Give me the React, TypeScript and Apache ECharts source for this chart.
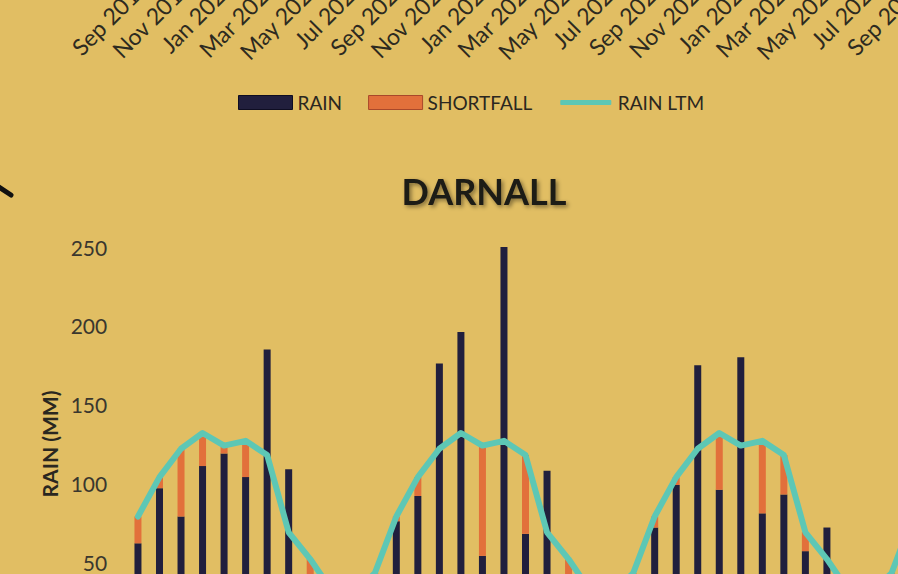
import React, { useEffect, useRef } from "react";
import * as echarts from "echarts";

const months = [
  "Sep 2019", "Oct 2019", "Nov 2019", "Dec 2019", "Jan 2020", "Feb 2020", "Mar 2020", "Apr 2020", "May 2020", "Jun 2020", "Jul 2020", "Aug 2020",
  "Sep 2020", "Oct 2020", "Nov 2020", "Dec 2020", "Jan 2021", "Feb 2021", "Mar 2021", "Apr 2021", "May 2021", "Jun 2021", "Jul 2021", "Aug 2021",
  "Sep 2021", "Oct 2021", "Nov 2021", "Dec 2021", "Jan 2022", "Feb 2022", "Mar 2022", "Apr 2022", "May 2022", "Jun 2022", "Jul 2022", "Aug 2022",
  "Sep 2022",
];

const rain = [
  62, 97, 79, 111, 119, 104, 185, 109, 30, 12, 8, 20,
  76, 92, 176, 196, 54, 250, 68, 108, 28, 15, 10, 25,
  72, 99, 175, 96, 180, 81, 93, 57, 72, 20, 15, 30,
  60,
];

const shortfall = [
  17, 7, 43, 21, 5, 23, 0, 0, 22, 20, 22, 23,
  3, 12, 0, 0, 70, 0, 50, 0, 24, 17, 20, 18,
  7, 5, 0, 36, 0, 46, 25, 12, 0, 12, 15, 13,
  19,
];

const rainLtm = [
  79, 104, 122, 132, 124, 127, 118, 69, 52, 32, 30, 43,
  79, 104, 122, 132, 124, 127, 118, 69, 52, 32, 30, 43,
  79, 104, 122, 132, 124, 127, 118, 69, 52, 32, 30, 43,
  79,
];

const yMin = 0;
const yMax = 250;
const yStep = 50;

const BG = "#E1BE63";
const DARK = "#211F3D";
const ORANGE = "#E2703B";
const TEAL = "#5DC7B5";

export default function App() {
  const ref = useRef<HTMLDivElement>(null);
  useEffect(() => {
    const chart = echarts.init(ref.current!, null, { renderer: "svg" });
    chart.setOption({
      animation: false,
      backgroundColor: BG,
      textStyle: { fontFamily: "Lato" },
      title: {
        text: "DARNALL",
        left: 479,
        top: 248,
        textAlign: "center",
        textStyle: {
          fontFamily: "Lato",
          fontSize: 36,
          fontWeight: "bold",
          color: "#1c1a16",
          textShadowColor: "rgba(0,0,0,0.45)",
          textShadowBlur: 4,
          textShadowOffsetX: 2,
          textShadowOffsetY: 2,
        },
      },
      legend: {
        left: 233,
        top: 168,
        itemWidth: 54,
        itemHeight: 14,
        itemGap: 26,
        textStyle: { fontFamily: "Lato", fontSize: 19, color: "#2a2720" },
        data: [
          { name: "RAIN", icon: "rect", itemStyle: { color: DARK, borderColor: "#0e0d22", borderWidth: 1 } },
          { name: "SHORTFALL", icon: "rect", itemStyle: { color: ORANGE, borderColor: "#a9482a", borderWidth: 1 } },
          {
            name: "RAIN LTM",
            icon: "path://M0,0M54,14M2,5L52,5L52,9L2,9Z",
            itemStyle: { color: TEAL, borderColor: TEAL, borderWidth: 1 },
          },
        ],
      },
      graphic: [
        {
          type: "line",
          shape: { x1: -4, y1: 265, x2: 11, y2: 275 },
          style: { stroke: "#111", lineWidth: 5, lineCap: "round" },
        },
      ],
      grid: [
        { left: 133.2, top: 0, width: 796.6, height: 50.5 },
        { left: 127.2, top: 327, width: 796.6, height: 394 },
      ],
      xAxis: [
        {
          gridIndex: 0,
          type: "category",
          data: months,
          axisLine: { show: false },
          axisTick: { show: false },
          axisLabel: { interval: 1, rotate: 45, fontSize: 23, color: "#2d2a20", margin: 12 },
        },
        {
          gridIndex: 1,
          type: "category",
          data: months,
          axisLine: { show: false },
          axisTick: { show: false },
          axisLabel: { show: false },
        },
      ],
      yAxis: [
        { gridIndex: 0, type: "value", show: false },
        {
          gridIndex: 1,
          type: "value",
          min: yMin,
          max: yMax,
          interval: yStep,
          name: "RAIN (MM)",
          nameLocation: "middle",
          nameRotate: 90,
          nameGap: 67,
          nameTextStyle: { fontFamily: "Lato", fontSize: 21, fontWeight: "bold", color: "#2a2720" },
          axisLabel: { fontSize: 21, color: "#3a372e", margin: 20 },
          splitLine: { show: false },
          axisLine: { show: false },
          axisTick: { show: false },
        },
      ],
      series: [
        {
          name: "RAIN",
          type: "bar",
          stack: "r",
          xAxisIndex: 1,
          yAxisIndex: 1,
          barWidth: 7,
          itemStyle: { color: DARK },
          data: rain,
        },
        {
          name: "SHORTFALL",
          type: "bar",
          stack: "r",
          xAxisIndex: 1,
          yAxisIndex: 1,
          barWidth: 7,
          itemStyle: { color: ORANGE },
          data: shortfall,
        },
        {
          name: "RAIN LTM",
          type: "line",
          xAxisIndex: 1,
          yAxisIndex: 1,
          symbol: "none",
          z: 5,
          itemStyle: { color: TEAL },
          lineStyle: { color: TEAL, width: 6, cap: "round", join: "round" },
          data: rainLtm,
        },
      ],
    });
    return () => chart.dispose();
  }, []);
  return (
    <div style={{ position: "fixed", left: 0, top: 0, width: 898, height: 574, overflow: "hidden", background: BG }}>
      <div ref={ref} style={{ position: "absolute", left: 0, top: -80, width: 1000, height: 820 }} />
    </div>
  );
}
